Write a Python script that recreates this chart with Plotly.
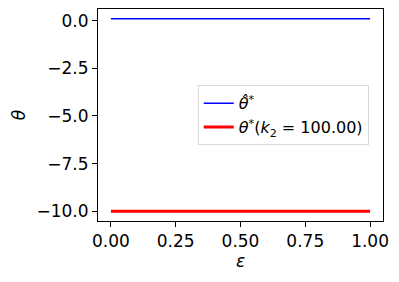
import plotly.graph_objects as go

# epsilon values and the two theta series
epsilon = [0.0, 0.25, 0.5, 0.75, 1.0]
theta_hat = [0.1, 0.1, 0.1, 0.1, 0.1]
theta_star = [-10.0, -10.0, -10.0, -10.0, -10.0]

y_ticks = [0.0, -2.5, -5.0, -7.5, -10.0]
x_ticks = [0.0, 0.25, 0.5, 0.75, 1.0]

FONT = "DejaVu Sans, sans-serif"

fig = go.Figure()
fig.add_trace(go.Scatter(
    x=epsilon, y=theta_hat, mode="lines",
    line=dict(color="#0000ff", width=1.6),
    name="<i>θ̂</i><sup>*</sup>",
))
fig.add_trace(go.Scatter(
    x=epsilon, y=theta_star, mode="lines",
    line=dict(color="#ff0000", width=3),
    name="<i>θ</i><sup>*</sup>(<i>k</i><sub>2</sub> = 100.00)",
))

axis_style = dict(
    showline=True, linecolor="black", linewidth=1, mirror=True,
    ticks="outside", ticklen=5, tickcolor="black", tickwidth=1,
    showgrid=False, zeroline=False, automargin=False,
    tickfont=dict(size=17, color="black", family=FONT),
)

fig.update_xaxes(
    range=[-0.05, 1.05], tickvals=x_ticks, tickformat=".2f",
    title=dict(text="<i>ε</i>", font=dict(size=17, color="black", family=FONT), standoff=4),
    **axis_style,
)
fig.update_yaxes(
    range=[-10.51, 0.61], tickvals=y_ticks, tickformat=".1f",
    title=dict(text="<i>θ</i>", font=dict(size=17, color="black", family=FONT), standoff=6),
    **axis_style,
)

# page body adds an 8px margin, so the figure is sized to fit inside it
fig.update_layout(
    width=391, height=274,
    margin=dict(l=90, r=16, t=1, b=61),
    plot_bgcolor="white", paper_bgcolor="white",
    font=dict(family=FONT, color="black"),
    legend=dict(
        x=0.35, y=0.64, xanchor="left", yanchor="top",
        bgcolor="rgba(255,255,255,0.8)", bordercolor="#d9d9d9", borderwidth=1,
        font=dict(size=16, family=FONT, color="black"),
        tracegroupgap=0,
    ),
)

fig.write_html("out.html")
